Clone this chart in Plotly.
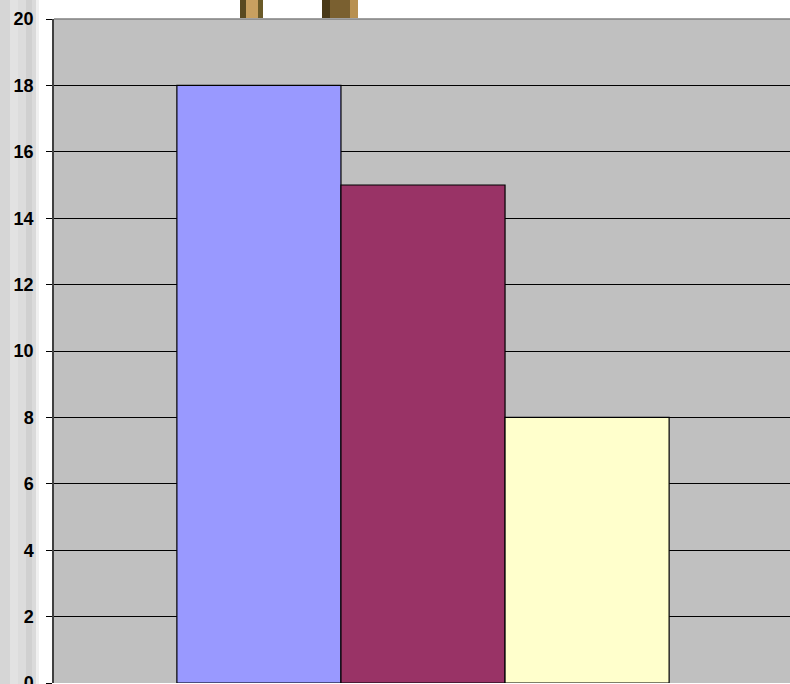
import plotly.graph_objects as go

category = ["A"]
series_names = ["Series 1", "Series 2", "Series 3"]
series_values = [[18], [15], [8]]
series_colors = ["#9999FF", "#993366", "#FFFFCC"]
y_ticks = [0, 2, 4, 6, 8, 10, 12, 14, 16, 18, 20]

fig = go.Figure()
for name, vals, col in zip(series_names, series_values, series_colors):
    fig.add_trace(go.Bar(x=category, y=vals, name=name,
                         marker=dict(color=col, line=dict(color="black", width=1.2))))

PX0, PY0, PW, PH = 54, 19, 738, 664


def fx(px):
    return (px - PX0) / PW


def fy(py):
    return 1 - (py - PY0) / PH


strip = [(0, 10, "#d6d6d6"), (10, 18, "#e2e2e2"), (18, 26, "#dcdcdc"),
         (26, 32, "#d0d0d0"), (32, 36, "#dadada"), (36, 39, "#f0f0f0")]
shapes = []
for x0, x1, c in strip:
    shapes.append(dict(type="rect", xref="paper", yref="paper", x0=fx(x0), x1=fx(x1), y0=fy(700), y1=fy(-10),
                       fillcolor=c, line=dict(width=0), layer="below"))
# top image fragments
for x0, x1, c in [(240, 246, "#5a4a20"), (246, 258, "#c8a060"), (258, 263, "#6a5a28"),
                  (322, 330, "#4a3a18"), (330, 350, "#7a6030"), (350, 358, "#b89050")]:
    shapes.append(dict(type="rect", xref="paper", yref="paper", x0=fx(x0), x1=fx(x1), y0=fy(18), y1=fy(-10),
                       fillcolor=c, line=dict(width=0), layer="below"))
shapes.append(dict(type="line", xref="paper", yref="paper", x0=0, x1=1, y0=1, y1=1,
                   line=dict(color="#808080", width=1.5)))

fig.update_layout(
    width=792, height=684,
    margin=dict(l=54, r=0, t=19, b=1),
    paper_bgcolor="white",
    plot_bgcolor="#C0C0C0",
    showlegend=False,
    barmode="group",
    bargap=0.333,
    bargroupgap=0,
    shapes=shapes,
    xaxis=dict(showticklabels=False, showgrid=False, zeroline=False, showline=False),
    yaxis=dict(range=[0, 20], tickvals=y_ticks, showgrid=True, gridcolor="black", gridwidth=1,
               ticks="outside", ticklen=6, tickcolor="black", showline=True, linecolor="#404040", linewidth=1.5,
               zeroline=False, ticklabelstandoff=9, automargin=False, ticklabeloverflow="allow",
               tickfont=dict(family="Liberation Sans, Arial", size=18, color="black", weight="bold")),
)
fig.write_html("out.html", config={"displayModeBar": False},
               post_script="document.body.style.margin='0';document.body.style.overflow='hidden';")
